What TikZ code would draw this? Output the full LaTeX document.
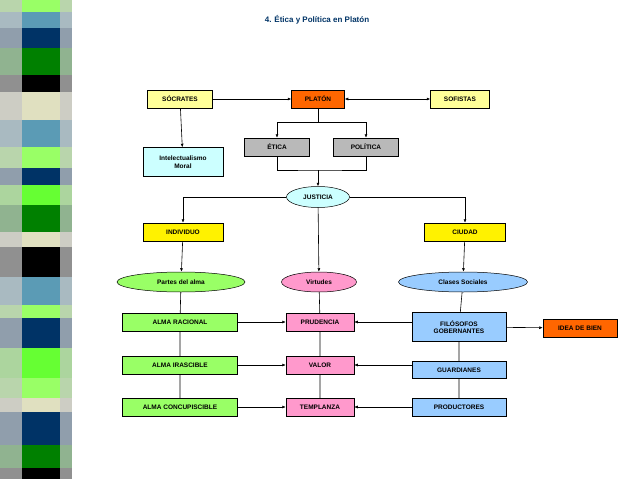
\documentclass[tikz,border=0pt]{standalone}
\usepackage{fontspec}
\setmainfont{Liberation Sans}
\usetikzlibrary{arrows.meta,shapes.geometric}
\definecolor{strblue}{HTML}{5B9BB5}
\definecolor{strnavy}{HTML}{003366}
\definecolor{strgreen}{HTML}{008000}
\definecolor{strlime}{HTML}{99FF66}
\definecolor{strbright}{HTML}{66FF33}
\definecolor{strbeige}{HTML}{E0E0C0}
\definecolor{boxyellow}{HTML}{FFFF99}
\definecolor{boxorange}{HTML}{FF6600}
\definecolor{boxcyan}{HTML}{CCFFFF}
\definecolor{boxgreen}{HTML}{99FF66}
\definecolor{boxpink}{HTML}{FF99CC}
\definecolor{boxblue}{HTML}{99CCFF}
\tikzstyle{box}=[rectangle,draw,line width=0.5pt,inner sep=1pt,align=center,font=\fontsize{6.5}{7.5}\selectfont\bfseries,minimum height=18pt]
\tikzstyle{blob}=[ellipse,draw,line width=0.5pt,inner sep=0pt,font=\fontsize{6.5}{7.5}\selectfont\bfseries,minimum height=20pt]
\tikzstyle{link}=[line width=0.6pt]
\tikzstyle{leads}=[link,-{Latex[length=3.5pt,width=3pt]}]
\tikzstyle{both}=[link,{Latex[length=3.5pt,width=3pt]}-{Latex[length=3.5pt,width=3pt]}]
\begin{document}
\begin{tikzpicture}[x=1pt,y=-1pt]
\useasboundingbox (0,0) rectangle (638,479);

% decorative strip
\foreach \ya/\yb/\col in {0/12/strlime,12/28/strblue,28/48/strnavy,48/75/strgreen,75/92/black,
  92/120/strbeige,120/147/strblue,147/168/strlime,168/185/strnavy,185/205/strbright,
  205/232/strgreen,232/247/strbeige,247/277/black,277/305/strblue,305/318/strlime,
  318/348/strnavy,348/378/strbright,378/398/strlime,398/412/strbeige,412/445/strnavy,
  445/468/strgreen,468/479/black}{
  \fill[\col!45!gray!60!white] (0,\ya) rectangle (72,\yb);
  \fill[\col] (22,\ya) rectangle (60,\yb);
}

\node (title) at (317,20) [font=\fontsize{8}{9}\selectfont\bfseries,text=strnavy] {4. Ética y Política en Platón};

\node (socrates) [box,fill=boxyellow,minimum width=65pt] at (180,99) {SÓCRATES};
\node (platon) [box,fill=boxorange,minimum width=53pt] at (318,99) {PLATÓN};
\node (sofistas) [box,fill=boxyellow,minimum width=59pt] at (460,99) {SOFISTAS};
\node (intel) [box,fill=boxcyan,minimum width=80pt,minimum height=29pt] at (183,162) {Intelectualismo\\Moral};
\node (etica) [box,fill=gray!55,minimum width=65pt] at (277,147) {ÉTICA};
\node (politica) [box,fill=gray!55,minimum width=65pt] at (366,147) {POLÍTICA};
\node (justicia) [blob,fill=boxcyan,minimum width=63pt,minimum height=21pt] at (318,197) {JUSTICIA};
\node (individuo) [box,fill=yellow,minimum width=80pt] at (183,232) {INDIVIDUO};
\node (ciudad) [box,fill=yellow,minimum width=81pt] at (465,232) {CIUDAD};
\node (partes) [blob,fill=boxgreen,minimum width=128pt] at (181,282) {Partes del alma};
\node (virtudes) [blob,fill=boxpink,minimum width=75pt] at (319,282) {Virtudes};
\node (clases) [blob,fill=boxblue,minimum width=129pt] at (463,282) {Clases Sociales};

\node (racional) [box,fill=boxgreen,minimum width=115pt] at (180,322) {ALMA RACIONAL};
\node (irascible) [box,fill=boxgreen,minimum width=115pt] at (180,365) {ALMA IRASCIBLE};
\node (concup) [box,fill=boxgreen,minimum width=115pt] at (180,407) {ALMA CONCUPISCIBLE};
\node (prudencia) [box,fill=boxpink,minimum width=68pt] at (320,322) {PRUDENCIA};
\node (valor) [box,fill=boxpink,minimum width=68pt] at (320,365) {VALOR};
\node (templanza) [box,fill=boxpink,minimum width=68pt] at (320,407) {TEMPLANZA};
\node (filosofos) [box,fill=boxblue,minimum width=94pt,minimum height=29pt] at (459,327) {FILÓSOFOS\\GOBERNANTES};
\node (guardianes) [box,fill=boxblue,minimum width=94pt,minimum height=17pt] at (459,370) {GUARDIANES};
\node (productores) [box,fill=boxblue,minimum width=94pt] at (459,407) {PRODUCTORES};
\node (bien) [box,fill=boxorange,minimum width=74pt] at (580,328) {IDEA DE BIEN};

\draw [leads] (socrates) -- (platon);
\draw [both] (platon) -- (sofistas);
\draw [leads] (socrates) -- (intel);
\draw [leads] (platon.south) -- ++(0,14) -| (etica);
\draw [leads] (platon.south) -- ++(0,14) -| (politica);
\draw [link] (etica) |- (318,170) -| (politica);
\draw [leads] (318,170) -- (justicia);
\draw [leads] (justicia) -| (individuo);
\draw [leads] (justicia) -| (ciudad);
\draw [leads] (justicia) -- (virtudes);
\draw [leads] (individuo) -- (partes);
\draw [leads] (ciudad) -- (clases);

\draw [link] (partes) -- (racional) (racional) -- (irascible) (irascible) -- (concup);
\draw [link] (virtudes) -- (prudencia) (prudencia) -- (valor) (valor) -- (templanza);
\draw [link] (clases) -- (filosofos) (filosofos) -- (guardianes) (guardianes) -- (productores);

\draw [leads] (racional) -- (prudencia);
\draw [leads] (irascible) -- (valor);
\draw [leads] (concup) -- (templanza);
\draw [leads] (filosofos.west |- prudencia) -- (prudencia);
\draw [leads] (guardianes.west |- valor) -- (valor);
\draw [leads] (productores) -- (templanza);
\draw [leads] (filosofos) -- (bien);
\end{tikzpicture}
\end{document}
